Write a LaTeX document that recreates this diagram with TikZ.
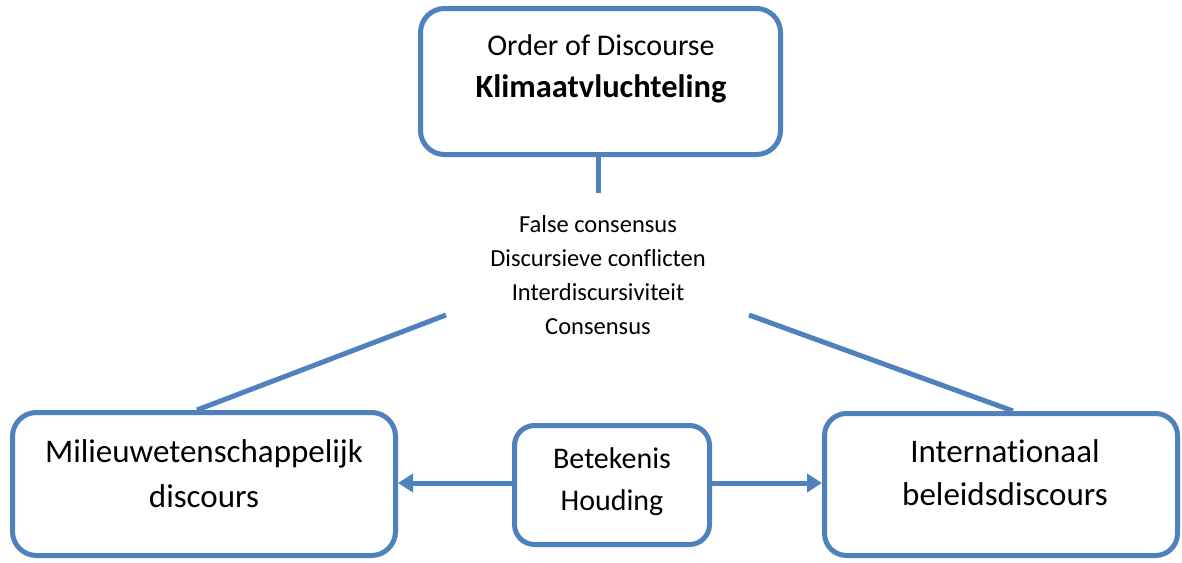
\documentclass[tikz,border=0pt]{standalone}
\usepackage{fontspec}
\setmainfont{Carlito}[Ligatures=NoCommon]
\usetikzlibrary{arrows.meta,positioning}
\definecolor{blokblauw}{RGB}{79,129,189}
\tikzset{
  blok/.style={draw=blokblauw, line width=5pt, rounded corners=24pt},
  lijn/.style={draw=blokblauw, line width=5pt},
  pijl/.style={lijn, -{Triangle[length=15pt 0, width=18pt 0]}},
  groot/.style={font=\fontsize{33}{36}\selectfont, anchor=base, inner sep=0pt},
  middel/.style={font=\fontsize{30}{34}\selectfont, anchor=base, inner sep=0pt},
  klein/.style={font=\fontsize{24.5}{28}\selectfont, anchor=base, inner sep=0pt}
}
\begin{document}
\begin{tikzpicture}[x=1pt,y=-1pt]
        \useasboundingbox (0,0) rectangle (1182,562);
        % boxes
        \node[blok, minimum width=360, minimum height=146] (order) at (600.5,81.5) {};
        \node[blok, minimum width=383, minimum height=143] (milieu) at (204,484) {};
        \node[blok, minimum width=353, minimum height=142, rounded corners=22pt] (beleid) at (1001,484.5) {};
        \node[blok, minimum width=195, minimum height=119, rounded corners=20pt] (betek) at (612,485) {};
        % texts
        \node[middel] (order1) at (601,55) {Order of Discourse};
        \node[middel] (order2) at (601,97) {\fontsize{32.5}{36}\selectfont\textbf{Klimaatvluchteling}};
        \node[groot] (milieu1) at (204,462) {Milieuwetenschappelijk};
        \node[groot] (milieu2) at (204,507) {discours};
        \node[groot] (beleid1) at (1005,462) {Internationaal};
        \node[groot] (beleid2) at (1005,505) {beleidsdiscours};
        \node[middel] (betek1) at (612,468) {Betekenis};
        \node[middel] (betek2) at (612,510) {Houding};
        \foreach \t [count=\i] in {False consensus, Discursieve conflicten, Interdiscursiviteit, Consensus}
            \node[klein] (relatie\i) at (598,{232+34.3*(\i-1)}) {\t};
        % connectors
        \coordinate (stam) at (598,193);
        \coordinate (links) at (446,315);
        \coordinate (rechts) at (749,315);
        \draw[lijn] ([xshift=-2.5]order.south) -- (stam);
        \draw[lijn] (links) -- ([xshift=-7]milieu.north);
        \draw[lijn] (rechts) -- ([xshift=12]beleid.north);
        \draw[pijl] ([yshift=2]betek.west) -- ([yshift=2]betek.west -| milieu.east);
        \draw[pijl] ([yshift=2]betek.east) -- ([yshift=2]betek.east -| beleid.west);
\end{tikzpicture}
\end{document}
